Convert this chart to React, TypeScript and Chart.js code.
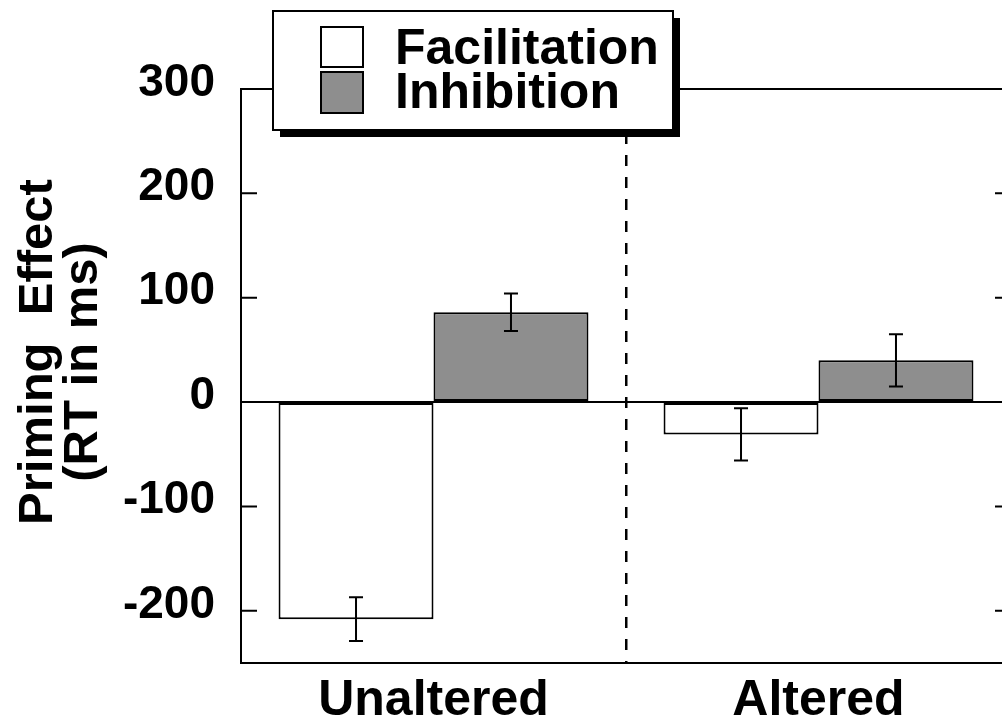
import React, { useEffect, useRef } from 'react';
import { Chart, registerables } from 'chart.js';

Chart.register(...registerables);

const categories = ['Unaltered', 'Altered'];
const seriesNames = ['Facilitation', 'Inhibition'];
const facilitation = [-208, -31];
const inhibition = [86, 40];
const facilitationErr = [21, 25];
const inhibitionErr = [18, 25];
const yTickValues = [-200, -100, 0, 100, 200, 300];
const yMin = -250;
const yMax = 300;
const yTitleLines = ['Priming  Effect', '(RT in ms)'];

const FONT = '"Liberation Sans", Arial, Helvetica, sans-serif';
const CANVAS_W = 1040;
const CANVAS_H = 722;

const errorBarPlugin = {
  id: 'errorBars',
  afterDatasetsDraw(chart: any) {
    const ctx = chart.ctx;
    const y = chart.scales.y;
    chart.data.datasets.forEach((ds: any, di: number) => {
      const meta = chart.getDatasetMeta(di);
      meta.data.forEach((bar: any, i: number) => {
        const v = ds.data[i];
        const e = ds.errors[i];
        const x = bar.x;
        const yTop = y.getPixelForValue(v + e);
        const yBot = y.getPixelForValue(v - e);
        ctx.save();
        ctx.strokeStyle = '#000';
        ctx.lineWidth = 2;
        ctx.beginPath();
        ctx.moveTo(x, yTop);
        ctx.lineTo(x, yBot);
        ctx.moveTo(x - 7, yTop);
        ctx.lineTo(x + 7, yTop);
        ctx.moveTo(x - 7, yBot);
        ctx.lineTo(x + 7, yBot);
        ctx.stroke();
        ctx.restore();
      });
    });
  },
};

const framePlugin = {
  id: 'frameAndLegend',
  afterDraw(chart: any) {
    const ctx = chart.ctx;
    const ca = chart.chartArea;
    const y = chart.scales.y;
    ctx.save();
    ctx.strokeStyle = '#000';
    ctx.lineWidth = 2;
    // top and right frame lines
    ctx.beginPath();
    ctx.moveTo(ca.left, ca.top);
    ctx.lineTo(ca.right, ca.top);
    ctx.lineTo(ca.right, ca.bottom);
    ctx.stroke();
    // inward ticks on both sides
    y.ticks.forEach((t: any) => {
      const py = y.getPixelForValue(t.value);
      ctx.beginPath();
      ctx.moveTo(ca.left, py);
      ctx.lineTo(ca.left + 16, py);
      ctx.moveTo(ca.right - 16, py);
      ctx.lineTo(ca.right, py);
      ctx.stroke();
    });
    ctx.restore();

    // y-axis title (two rotated lines)
    ctx.save();
    ctx.fillStyle = '#000';
    ctx.font = `bold 49px ${FONT}`;
    ctx.textAlign = 'center';
    ctx.textBaseline = 'alphabetic';
    const titlePos = [
      { x: 52, y: 352 },
      { x: 97, y: 362 },
    ];
    yTitleLines.forEach((line, i) => {
      ctx.save();
      ctx.translate(titlePos[i].x, titlePos[i].y);
      ctx.rotate(-Math.PI / 2);
      ctx.fillText(line, 0, 0);
      ctx.restore();
    });
    ctx.restore();

    // legend box with drop shadow
    const bx = 273, by = 11, bw = 400, bh = 119, sh = 7;
    ctx.save();
    ctx.fillStyle = '#000';
    ctx.fillRect(bx + sh, by + sh, bw, bh);
    ctx.fillStyle = '#fff';
    ctx.fillRect(bx, by, bw, bh);
    ctx.strokeStyle = '#000';
    ctx.lineWidth = 2;
    ctx.strokeRect(bx, by, bw, bh);
    const rows = [
      { sy: 27, sh: 40, base: 64 },
      { sy: 72, sh: 41, base: 108 },
    ];
    chart.data.datasets.forEach((ds: any, i: number) => {
      const r = rows[i];
      ctx.fillStyle = ds.backgroundColor;
      ctx.fillRect(321, r.sy, 42, r.sh);
      ctx.strokeStyle = '#000';
      ctx.lineWidth = 2;
      ctx.strokeRect(321, r.sy, 42, r.sh);
      ctx.fillStyle = '#000';
      ctx.font = `bold 50px ${FONT}`;
      ctx.textAlign = 'left';
      ctx.textBaseline = 'alphabetic';
      ctx.fillText(ds.label, 395, r.base);
    });
    ctx.restore();
  },
};

export default function App() {
  const canvasRef = useRef<HTMLCanvasElement | null>(null);

  useEffect(() => {
    const canvas = canvasRef.current;
    if (!canvas) return;
    const chart = new Chart(canvas, {
      type: 'bar',
      data: {
        labels: categories,
        datasets: [
          {
            label: seriesNames[0],
            data: facilitation,
            errors: facilitationErr,
            backgroundColor: '#ffffff',
            borderColor: '#000000',
            borderWidth: 2,
            borderSkipped: false,
            categoryPercentage: 0.805,
            barPercentage: 1,
          } as any,
          {
            label: seriesNames[1],
            data: inhibition,
            errors: inhibitionErr,
            backgroundColor: '#8e8e8e',
            borderColor: '#000000',
            borderWidth: 2,
            borderSkipped: false,
            categoryPercentage: 0.805,
            barPercentage: 1,
          } as any,
        ],
      },
      options: {
        responsive: false,
        animation: false,
        layout: { padding: { top: 89, right: CANVAS_W - 1011, left: 0, bottom: 0 } },
        plugins: {
          legend: { display: false },
          tooltip: { enabled: false },
        },
        scales: {
          x: {
            offset: true,
            grid: {
              offset: true,
              drawTicks: false,
              lineWidth: 2.5,
              color: (c: any) => (c.index === 1 ? '#000000' : 'rgba(0,0,0,0)'),
            },
            border: { display: true, color: '#000', width: 2, dash: [11, 11] },
            ticks: {
              color: '#000',
              padding: 8,
              font: { family: FONT, size: 50, weight: 'bold' },
            },
            afterFit: (scale: any) => {
              scale.height = CANVAS_H - 663;
            },
          },
          y: {
            min: yMin,
            max: yMax,
            afterBuildTicks: (scale: any) => {
              scale.ticks = yTickValues.map((v) => ({ value: v }));
            },
            grid: {
              drawTicks: false,
              lineWidth: 2,
              color: (c: any) => (c.tick && c.tick.value === 0 ? '#000000' : 'rgba(0,0,0,0)'),
            },
            border: { display: true, color: '#000', width: 2 },
            ticks: {
              color: '#000',
              padding: 26,
              labelOffset: -6,
              font: { family: FONT, size: 46, weight: 'bold' },
            },
            afterFit: (scale: any) => {
              scale.width = 241;
            },
          },
        },
      } as any,
      plugins: [errorBarPlugin, framePlugin],
    });
    return () => chart.destroy();
  }, []);

  return (
    <div
      style={{
        position: 'fixed',
        left: 0,
        top: 0,
        width: 1002,
        height: 722,
        overflow: 'hidden',
        background: '#ffffff',
      }}
    >
      <canvas
        ref={canvasRef}
        width={CANVAS_W}
        height={CANVAS_H}
        style={{ display: 'block', width: CANVAS_W, height: CANVAS_H }}
      />
    </div>
  );
}
